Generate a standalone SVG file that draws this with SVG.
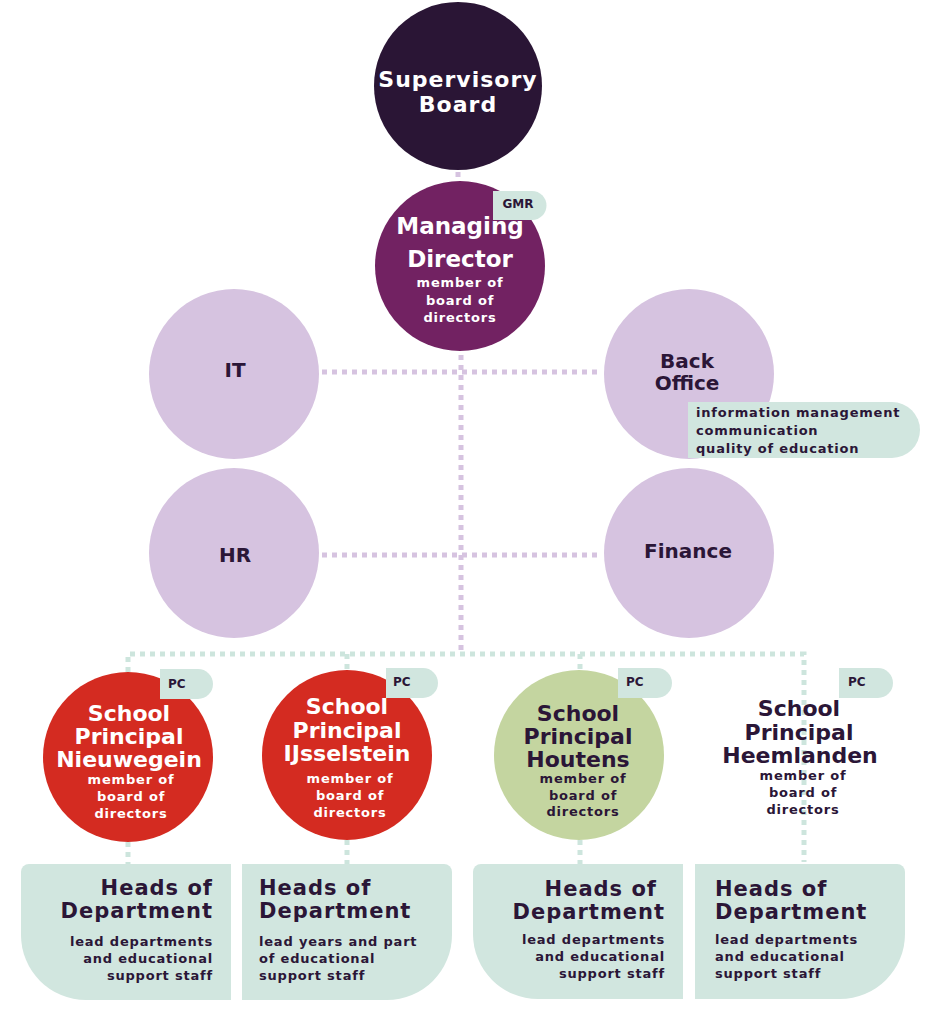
<svg xmlns="http://www.w3.org/2000/svg" width="937" height="1024" viewBox="0 0 937 1024">
<style>
.t{font-family:"DejaVu Sans","Liberation Sans",sans-serif;font-weight:bold;text-anchor:middle}
.big{font-size:22px}
.mid{font-size:20px}
.hd{font-size:21px;letter-spacing:1px}
.sm{font-size:13px;letter-spacing:0.8px}
.tag{font-size:12px}
.w{fill:#ffffff}
.d{fill:#2B1637}
.lav{fill:#D6C3E0}
.mint{fill:#D1E6DF}
.ld{fill:none;stroke:#D6C3E0;stroke-width:5;stroke-dasharray:5 5}
.md{fill:none;stroke:#CDE5DD;stroke-width:5;stroke-dasharray:5 5}
.end{text-anchor:end}
.start{text-anchor:start}
</style>
<rect width="937" height="1024" fill="#ffffff"/>
<g id="connectors">
<path class="ld" d="M458,172 V182"/>
<path class="ld" d="M461,355 V650"/>
<path class="ld" d="M322,372 H600"/>
<path class="ld" d="M322,555 H600"/>
<path class="md" d="M128,672 V654 H804 V862"/>
<path class="md" d="M347,654 V670"/>
<path class="md" d="M580,654 V670"/>
<path class="md" d="M128,842 V864"/>
<path class="md" d="M347,840 V864"/>
<path class="md" d="M580,840 V864"/>
</g>
<g id="supervisory-board">
<circle cx="458" cy="86" r="84" fill="#2A1535"/>
<text class="t w" font-size="22" letter-spacing="1" x="458" y="87">Supervisory</text>
<text class="t w" font-size="22" letter-spacing="1" x="458" y="112">Board</text>
</g>
<g id="managing-director">
<circle cx="460" cy="266" r="85" fill="#722262"/>
<path class="mint" d="M493,191 H532 A14.5,14.5 0 0 1 532,220 H493 Z"/>
<text class="t d tag" x="518" y="208">GMR</text>
<text class="t w" font-size="23" x="460" y="234">Managing</text>
<text class="t w" font-size="23" x="460" y="267">Director</text>
<text class="t w sm" x="460" y="287">member of</text>
<text class="t w sm" x="460" y="305">board of</text>
<text class="t w sm" x="460" y="322">directors</text>
</g>
<g id="it">
<circle class="lav" cx="234" cy="374" r="85"/>
<text class="t d mid" x="235" y="377">IT</text>
</g>
<g id="hr">
<circle class="lav" cx="234" cy="553" r="85"/>
<text class="t d mid" x="235" y="562">HR</text>
</g>
<g id="back-office">
<circle class="lav" cx="689" cy="374" r="85"/>
<text class="t d mid" x="687" y="368">Back</text>
<text class="t d mid" x="687" y="390">Office</text>
<path class="mint" d="M688,402 H892 A28,28 0 0 1 892,458 H688 Z"/>
<text class="t d sm start" x="696" y="417">information management</text>
<text class="t d sm start" x="696" y="435">communication</text>
<text class="t d sm start" x="696" y="453">quality of education</text>
</g>
<g id="finance">
<circle class="lav" cx="689" cy="553" r="85"/>
<text class="t d mid" x="688" y="558">Finance</text>
</g>
<g id="principal-nieuwegein">
<circle cx="128" cy="757" r="85" fill="#D42B21"/>
<path class="mint" d="M160,669 H198 A15,15 0 0 1 198,699 H160 Z"/>
<text class="t d tag start" x="168" y="688">PC</text>
<text class="t w big" x="129" y="721">School</text>
<text class="t w big" x="129" y="744">Principal</text>
<text class="t w big" x="129" y="767">Nieuwegein</text>
<text class="t w sm" x="131" y="784">member of</text>
<text class="t w sm" x="131" y="801">board of</text>
<text class="t w sm" x="131" y="818">directors</text>
</g>
<g id="principal-ijsselstein">
<circle cx="347" cy="755" r="85" fill="#D42B21"/>
<path class="mint" d="M386,668 H423 A15,15 0 0 1 423,698 H386 Z"/>
<text class="t d tag start" x="393" y="686">PC</text>
<text class="t w big" x="347" y="714">School</text>
<text class="t w big" x="347" y="738">Principal</text>
<text class="t w big" x="347" y="761">IJsselstein</text>
<text class="t w sm" x="350" y="783">member of</text>
<text class="t w sm" x="350" y="800">board of</text>
<text class="t w sm" x="350" y="817">directors</text>
</g>
<g id="principal-houtens">
<circle cx="579" cy="755" r="85" fill="#C4D5A0"/>
<path class="mint" d="M618,668 H657 A15,15 0 0 1 657,698 H618 Z"/>
<text class="t d tag start" x="626" y="686">PC</text>
<text class="t d big" x="578" y="721">School</text>
<text class="t d big" x="578" y="744">Principal</text>
<text class="t d big" x="578" y="767">Houtens</text>
<text class="t d sm" x="583" y="783">member of</text>
<text class="t d sm" x="583" y="800">board of</text>
<text class="t d sm" x="583" y="816">directors</text>
</g>
<g id="principal-heemlanden">
<path class="mint" d="M839,668 H878 A15,15 0 0 1 878,698 H839 Z"/>
<text class="t d tag start" x="848" y="686">PC</text>
<text class="t d big" x="799" y="716">School</text>
<text class="t d big" x="799" y="740">Principal</text>
<text class="t d big" x="800" y="763">Heemlanden</text>
<text class="t d sm" x="803" y="780">member of</text>
<text class="t d sm" x="803" y="797">board of</text>
<text class="t d sm" x="803" y="814">directors</text>
</g>
<g id="heads-nieuwegein">
<path class="mint" d="M29,864 H231 V1000 H86 A65,65 0 0 1 21,935 V872 A8,8 0 0 1 29,864 Z"/>
<text class="t d hd end" x="213" y="895">Heads of</text>
<text class="t d hd end" x="213" y="918">Department</text>
<text class="t d sm end" x="213" y="946">lead departments</text>
<text class="t d sm end" x="213" y="963">and educational</text>
<text class="t d sm end" x="213" y="980">support staff</text>
</g>
<g id="heads-ijsselstein">
<path class="mint" d="M242,864 H444 A8,8 0 0 1 452,872 V935 A65,65 0 0 1 387,1000 H242 Z"/>
<text class="t d hd start" x="259" y="895">Heads of</text>
<text class="t d hd start" x="259" y="918">Department</text>
<text class="t d sm start" x="259" y="946">lead years and part</text>
<text class="t d sm start" x="259" y="963">of educational</text>
<text class="t d sm start" x="259" y="980">support staff</text>
</g>
<g id="heads-houtens">
<path class="mint" d="M481,864 H683 V999 H538 A65,65 0 0 1 473,934 V872 A8,8 0 0 1 481,864 Z"/>
<text class="t d hd end" x="657" y="896">Heads of</text>
<text class="t d hd end" x="665" y="919">Department</text>
<text class="t d sm end" x="665" y="944">lead departments</text>
<text class="t d sm end" x="665" y="961">and educational</text>
<text class="t d sm end" x="665" y="978">support staff</text>
</g>
<g id="heads-heemlanden">
<path class="mint" d="M695,864 H897 A8,8 0 0 1 905,872 V934 A65,65 0 0 1 840,999 H695 Z"/>
<text class="t d hd start" x="715" y="896">Heads of</text>
<text class="t d hd start" x="715" y="919">Department</text>
<text class="t d sm start" x="715" y="944">lead departments</text>
<text class="t d sm start" x="715" y="961">and educational</text>
<text class="t d sm start" x="715" y="978">support staff</text>
</g>
</svg>
